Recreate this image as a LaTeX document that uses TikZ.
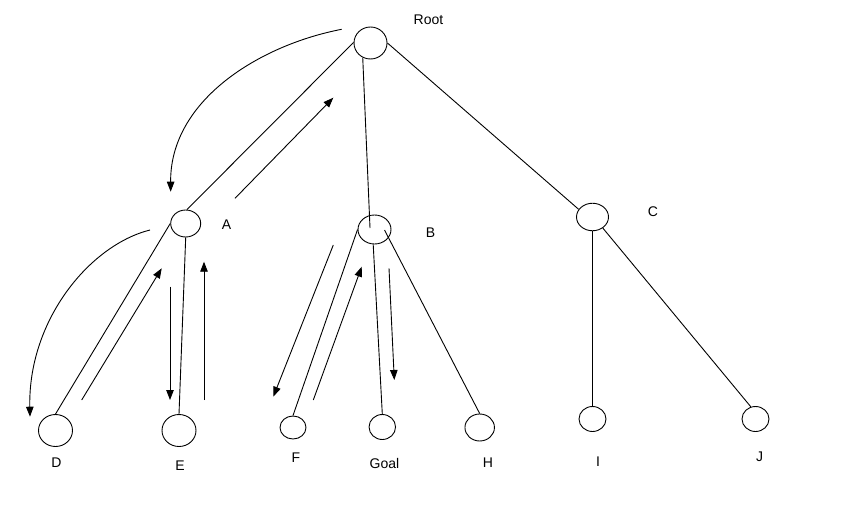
\documentclass[tikz,border=0pt]{standalone}
\usepackage{fontspec}
\setmainfont{Liberation Sans}
\usetikzlibrary{shapes.geometric,arrows.meta,calc}
\begin{document}
\begin{tikzpicture}[x=1pt,y=-1pt,
  state/.style={draw, ellipse, inner sep=0pt, line width=0.9pt},
  edge/.style={line width=0.9pt},
  move/.style={line width=0.9pt, -{Triangle[length=10pt,width=7.5pt]}},
  lbl/.style={anchor=base, font=\fontsize{14}{16}\selectfont, inner sep=0pt}]
\useasboundingbox (0,0) rectangle (856,511);

% tree nodes
\node[state, minimum width=33pt, minimum height=32pt] (root) at (370.5,43) {};
\node[state, minimum width=30pt, minimum height=27pt] (A) at (185.7,223.5) {};
\node[state, minimum width=33pt, minimum height=29pt] (B) at (374.5,229.5) {};
\node[state, minimum width=32pt, minimum height=27.5pt] (C) at (592.5,217) {};
\node[state, minimum width=34pt, minimum height=32pt] (D) at (55.5,430.5) {};
\node[state, minimum width=34pt, minimum height=32pt] (E) at (179,430.5) {};
\node[state, minimum width=26pt, minimum height=23pt] (F) at (293,427.5) {};
\node[state, minimum width=26.5pt, minimum height=25pt] (G) at (382.3,427) {};
\node[state, minimum width=29.5pt, minimum height=27pt] (H) at (479.7,427.5) {};
\node[state, minimum width=27pt, minimum height=25pt] (I) at (592.5,419) {};
\node[state, minimum width=27pt, minimum height=25pt] (J) at (755.5,419) {};

% labels
\node[lbl] (lroot) at (428.5,25) {Root};
\node[lbl] (lA) at (226.5,229) {A};
\node[lbl] (lB) at (430.5,237) {B};
\node[lbl] (lC) at (653,216) {C};
\node[lbl] (lD) at (56.5,467) {D};
\node[lbl] (lE) at (180,470) {E};
\node[lbl] (lF) at (296,462.7) {F};
\node[lbl] (lG) at (384.5,468) {Goal};
\node[lbl] (lH) at (488,467) {H};
\node[lbl] (lI) at (598,466) {I};
\node[lbl] (lJ) at (759.5,461) {J};

% points inside B where two edges meet it
\coordinate (Bin1) at ($(B.center)+(-4.5,-1.5)$);
\coordinate (Bin2) at ($(B.center)+(10,0.5)$);

% tree edges
\draw[edge] (root.178) -- (A.85);
\draw[edge] (root.242) -- (Bin1);
\draw[edge] (root.east) -- (C.151);
\draw[edge] (A.180) -- (D.north);
\draw[edge] (A.south) -- (E.north);
\draw[edge] (B.180) -- (F.north);
\draw[edge] (B.265) -- (G.north);
\draw[edge] (Bin2) -- (H.north);
\draw[edge] (C.south) -- (I.north);
\draw[edge] (C.-47) -- (J.111);

% search moves
\coordinate (m1s) at (341.7,29.3);  \coordinate (m1e) at (170.7,191.7);
\coordinate (m2s) at (235,198.3);   \coordinate (m2e) at (333.3,97.7);
\coordinate (m3s) at (150,230);     \coordinate (m3e) at (30,416.7);
\coordinate (m4s) at (81.7,400);    \coordinate (m4e) at (161.7,268.3);
\coordinate (m5s) at (170,286.7);   \coordinate (m5e) at (170,400);
\coordinate (m6s) at (204,400);     \coordinate (m6e) at (204,261.7);
\coordinate (m7s) at (333.3,245);   \coordinate (m7e) at (273.3,396.7);
\coordinate (m8s) at (313.3,400);   \coordinate (m8e) at (361.7,266.7);
\coordinate (m9s) at (389,268.3);   \coordinate (m9e) at (394.3,380);

\draw[move] (m1s) .. controls (260,45) and (170,100) .. (m1e);
\draw[move] (m2s) -- (m2e);
\draw[move] (m3s) .. controls (90,245) and (28,320) .. (m3e);
\draw[move] (m4s) -- (m4e);
\draw[move] (m5s) -- (m5e);
\draw[move] (m6s) -- (m6e);
\draw[move] (m7s) -- (m7e);
\draw[move] (m8s) -- (m8e);
\draw[move] (m9s) -- (m9e);
\end{tikzpicture}
\end{document}
